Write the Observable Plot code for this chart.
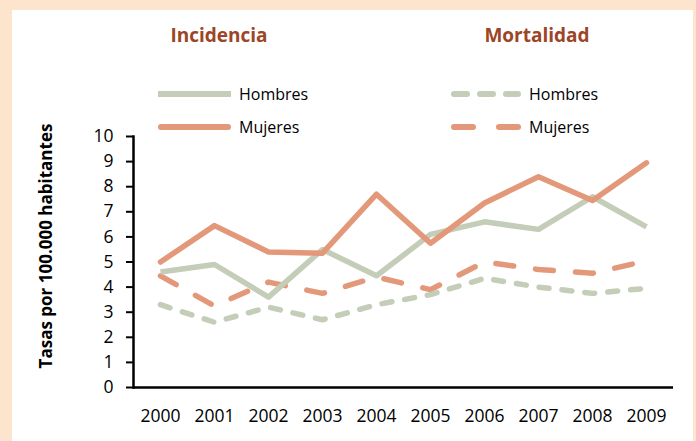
<!DOCTYPE html>
<html>
<head>
<meta charset="utf-8">
<script src="https://cdn.jsdelivr.net/npm/d3@7"></script>
<script src="https://cdn.jsdelivr.net/npm/@observablehq/plot@0.6"></script>
<style>
  html, body { margin: 0; padding: 0; background: #fde5cd; }
  #wrap { position: relative; width: 696px; height: 441px; overflow: hidden; background: #fde5cd; font-family: "Open Sans", sans-serif; }
  #panel { position: absolute; left: 12px; top: 10px; width: 681px; height: 431px; background: #ffffff; }
  #chart { position: absolute; left: 0; top: 0; }
  .title { position: absolute; top: 22px; font-weight: bold; font-size: 19px; color: #9c4527; transform: translateX(-50%); white-space: nowrap; }
  .leg { position: absolute; display: flex; align-items: center; font-size: 16px; color: #000; white-space: nowrap; }
  .leg svg { margin-right: 6px; }
  #ylab { position: absolute; left: 45px; top: 246px; transform: translate(-50%, -50%) rotate(-90deg); font-weight: bold; font-size: 17px; white-space: nowrap; color: #000; }
</style>
</head>
<body>
<div id="wrap">
  <div id="panel"></div>
  <div id="chart"></div>
  <div class="title" style="left:219px">Incidencia</div>
  <div class="title" style="left:537px">Mortalidad</div>
  <div id="legend"></div>
  <div id="ylab">Tasas por 100.000 habitantes</div>
</div>
<script>
const years = ["2000","2001","2002","2003","2004","2005","2006","2007","2008","2009"];
const incHombres = [4.6, 4.9, 3.6, 5.5, 4.45, 6.1, 6.6, 6.3, 7.6, 6.4];
const incMujeres = [5.0, 6.45, 5.4, 5.35, 7.7, 5.75, 7.35, 8.4, 7.45, 8.95];
const morHombres = [3.3, 2.6, 3.2, 2.7, 3.3, 3.7, 4.35, 4.0, 3.75, 3.95];
const morMujeres = [4.45, 3.25, 4.2, 3.75, 4.4, 3.9, 5.0, 4.7, 4.55, 5.05];
const yTicks = [0,1,2,3,4,5,6,7,8,9,10];

const green = "#c3cdb8";
const orange = "#e3987a";

const series = [
  {key: "incH", name: "Hombres", values: incHombres, color: green, dash: null, cap: "butt", legDash: null},
  {key: "incM", name: "Mujeres", values: incMujeres, color: orange, dash: null, cap: "round", legDash: null},
  {key: "morH", name: "Hombres", values: morHombres, color: green, dash: "10,13", cap: "round", legDash: "13,13"},
  {key: "morM", name: "Mujeres", values: morMujeres, color: orange, dash: "18,22", cap: "round", legDash: "19,26"}
];

const lineMarks = series.map(s => Plot.line(
  years.map((y, i) => ({year: y, value: s.values[i]})),
  {x: "year", y: "value", stroke: s.color, strokeWidth: 5.5, strokeDasharray: s.dash, strokeLinecap: s.cap, strokeLinejoin: "round"}
));

const chart = Plot.plot({
  width: 696,
  height: 441,
  marginLeft: 133,
  marginRight: 23,
  marginTop: 136,
  marginBottom: 54,
  style: {fontFamily: "Open Sans", fontSize: "17.5px", color: "#000", background: "transparent", overflow: "visible"},
  x: {type: "point", domain: years, padding: 0.5},
  y: {domain: [0, 10]},
  marks: [
    lineMarks[3], lineMarks[2], lineMarks[0], lineMarks[1],
    Plot.axisY({ticks: yTicks, tickSize: 7, tickPadding: 13, label: null, stroke: "#000", strokeWidth: 2}),
    Plot.axisX({tickSize: 0, tickPadding: 22, label: null}),
    Plot.frame({anchor: "left", stroke: "#000", strokeWidth: 2.5}),
    Plot.ruleY([0], {stroke: "#000", strokeWidth: 2.5})
  ]
});
document.getElementById("chart").appendChild(chart);

// legend
const legendPos = [
  {s: series[0], left: 158, top: 94},
  {s: series[1], left: 158, top: 127},
  {s: series[2], left: 451, top: 94},
  {s: series[3], left: 451, top: 127}
];
const legend = document.getElementById("legend");
for (const p of legendPos) {
  const div = document.createElement("div");
  div.className = "leg";
  div.style.left = p.left + "px";
  div.style.top = (p.top - 12) + "px";
  div.style.height = "24px";
  const w = p.s.dash ? 70 : 73;
  const x1 = p.s.cap === "round" ? 3 : 0;
  const x2 = p.s.cap === "round" ? w - 3 : w;
  div.innerHTML = `<svg width="${w + 2}" height="10"><line x1="${x1}" y1="5" x2="${x2}" y2="5" stroke="${p.s.color}" stroke-width="6" stroke-linecap="${p.s.cap}" ${p.s.legDash ? `stroke-dasharray="${p.s.legDash}"` : ""}/></svg><span>${p.s.name}</span>`;
  legend.appendChild(div);
}
</script>
</body>
</html>
